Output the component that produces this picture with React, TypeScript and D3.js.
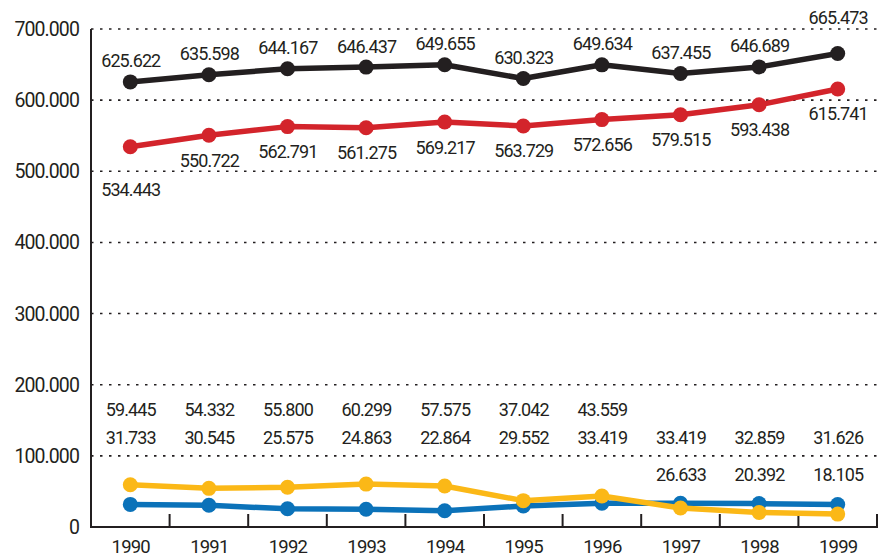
import React from 'react';
import * as d3 from 'd3';

const years = ['1990', '1991', '1992', '1993', '1994', '1995', '1996', '1997', '1998', '1999'];
const totalValues = [625.622, 635.598, 644.167, 646.437, 649.655, 630.323, 649.634, 637.455, 646.689, 665.473];
const redValues = [534.443, 550.722, 562.791, 561.275, 569.217, 563.729, 572.656, 579.515, 593.438, 615.741];
const yellowValues = [59.445, 54.332, 55.8, 60.299, 57.575, 37.042, 43.559, 26.633, 20.392, 18.105];
const blueValues = [31.733, 30.545, 25.575, 24.863, 22.864, 29.552, 33.419, 33.419, 32.859, 31.626];
const yTicks = [0, 100, 200, 300, 400, 500, 600, 700];

const W = 879;
const H = 557;
const left = 91;
const right = 877;
const top = 29;
const bottom = 527;
const ink = '#231f20';
const FONT = 'Roboto, "Liberation Sans", sans-serif';

const fmt = (v: number) => (v === 0 ? '0' : v.toFixed(3));

const labelStyle = { fontFamily: FONT, fontSize: 18, letterSpacing: -0.9 } as const;

export default function App() {
  const x = d3.scaleBand<string>().domain(years).range([left, right]).padding(0);
  const y = d3.scaleLinear().domain([0, 700]).range([bottom, top]);
  const cx = (i: number) => (x(years[i]) as number) + x.bandwidth() / 2;
  const line = d3
    .line<number>()
    .x((_, i) => cx(i))
    .y((d) => y(d));

  const series = [
    { values: blueValues, color: '#0b72b9' },
    { values: yellowValues, color: '#fbb817' },
    { values: redValues, color: '#d3242b' },
    { values: totalValues, color: '#231f20' },
  ];

  const boundaries = years.map((yr) => (x(yr) as number) + x.bandwidth()).filter((b) => b > left);
  const rowY = [410, 438, 475];

  const Label = ({ xp, yp, text }: { xp: number; yp: number; text: string }) => (
    <text x={xp + 0.45} y={yp} dy="0.36em" textAnchor="middle" style={labelStyle} fill={ink}>
      {text}
    </text>
  );

  return (
    <div style={{ position: 'absolute', left: 0, top: 0 }}>
      <svg width={W} height={H} style={{ display: 'block', background: '#fff' }}>
        {/* gridlines */}
        {yTicks
          .filter((t) => t > 0)
          .map((t) => (
            <line
              key={'g' + t}
              x1={left}
              x2={right}
              y1={y(t)}
              y2={y(t)}
              stroke={ink}
              strokeWidth={1.6}
              strokeDasharray="2.5 6.5"
            />
          ))}
        {/* axes */}
        <line x1={left} x2={left} y1={top} y2={bottom + 1} stroke={ink} strokeWidth={2} />
        <line x1={left} x2={right + 1} y1={bottom} y2={bottom} stroke={ink} strokeWidth={2} />
        {boundaries.map((b, i) => (
          <line key={'t' + i} x1={b} x2={b} y1={bottom} y2={bottom - 13} stroke={ink} strokeWidth={2} />
        ))}
        {/* y labels */}
        {yTicks.map((t) => (
          <text
            key={'yl' + t}
            x={79}
            y={y(t)}
            dy="0.36em"
            textAnchor="end"
            style={{ fontFamily: FONT, fontSize: 19.5, letterSpacing: -0.9 }}
            fill={ink}
          >
            {fmt(t)}
          </text>
        ))}
        {/* x labels */}
        {years.map((yr, i) => (
          <text
            key={'xl' + yr}
            x={cx(i) + 0.45}
            y={546}
            dy="0.36em"
            textAnchor="middle"
            style={{ fontFamily: FONT, fontSize: 18.5, letterSpacing: -0.8 }}
            fill={ink}
          >
            {yr}
          </text>
        ))}
        {/* lines */}
        {series.map((s, si) => (
          <g key={'s' + si}>
            <path d={line(s.values) as string} fill="none" stroke={s.color} strokeWidth={5.5} strokeLinejoin="round" />
            {s.values.map((v, i) => (
              <circle key={i} cx={cx(i)} cy={y(v)} r={7.5} fill={s.color} />
            ))}
          </g>
        ))}
        {/* total labels */}
        {totalValues.map((v, i) => (
          <Label key={'tl' + i} xp={cx(i)} yp={y(v) + (i === years.length - 1 ? -36 : -21)} text={fmt(v)} />
        ))}
        {/* red labels */}
        {redValues.map((v, i) => (
          <Label key={'rl' + i} xp={cx(i)} yp={y(v) + (i === 0 ? 43 : 25)} text={fmt(v)} />
        ))}
        {/* yellow / blue labels in rows */}
        {years.map((yr, i) => {
          const yv = yellowValues[i];
          const bv = blueValues[i];
          const yellowRow = yv > bv ? 0 : 2;
          return (
            <g key={'yb' + yr}>
              <Label xp={cx(i)} yp={rowY[yellowRow]} text={fmt(yv)} />
              <Label xp={cx(i)} yp={rowY[1]} text={fmt(bv)} />
            </g>
          );
        })}
      </svg>
    </div>
  );
}
